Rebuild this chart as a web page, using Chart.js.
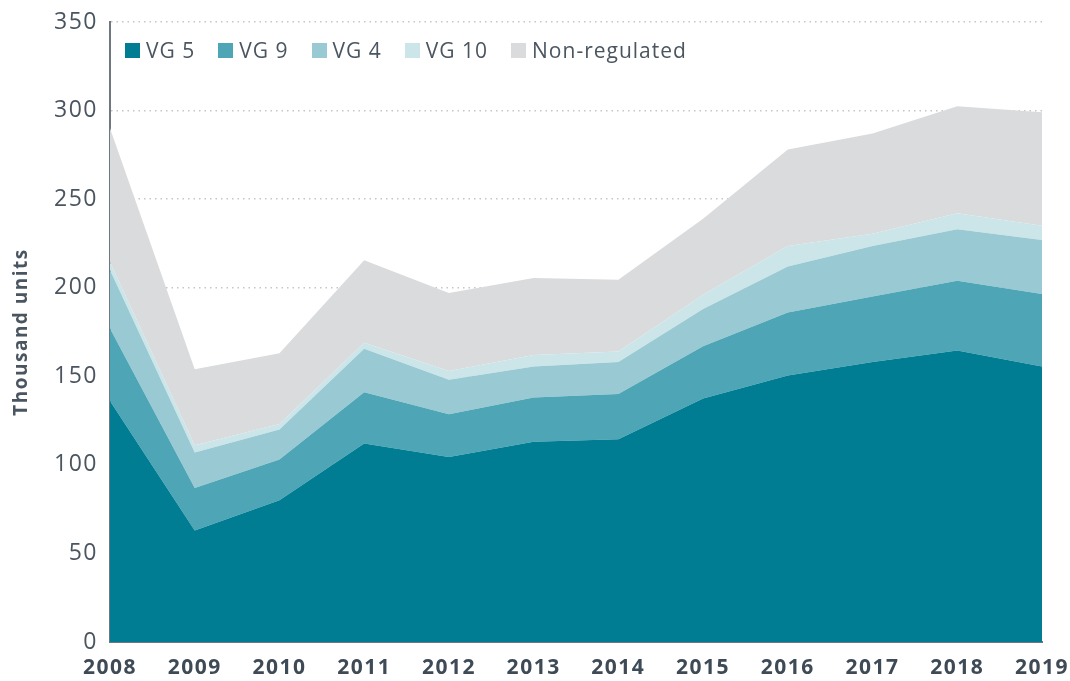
<!DOCTYPE html>
<html>
<head>
<meta charset="utf-8">
<script src="https://cdn.jsdelivr.net/npm/chart.js@4"></script>
<style>
  body { margin: 0; background: #fff; }
  #wrap { position: relative; width: 1070px; height: 681px; }
  #legend {
    position: absolute; left: 125px; top: 36px;
    font-family: "Open Sans", sans-serif; font-size: 21px; letter-spacing: 1px; color: #4a5560;
    display: flex; align-items: center;
  }
  #legend span.item { display: flex; align-items: center; margin-right: 23px; }
  #legend span.box { width: 15px; height: 15px; margin-right: 6px; display: inline-block; }
</style>
</head>
<body>
<div id="wrap">
  <canvas id="myChart" width="1070" height="681"></canvas>
  <div id="legend"></div>
</div>
<script>
let years = ['2008', '2009', '2010', '2011', '2012', '2013', '2014', '2015', '2016', '2017', '2018', '2019']

let vg5 = [136, 63, 80, 112, 104.5, 113, 114.5, 137.5, 150.5, 158, 164.5, 155.5]
let vg9 = [41, 24, 23, 29, 24, 25, 25.5, 29.5, 35.5, 37, 39.5, 41]
let vg4 = [33, 20, 17, 24.5, 19.5, 17.5, 18, 21, 26, 28.5, 29, 30.5]
let vg10 = [4.5, 4, 3, 3.5, 5, 6.5, 6, 8, 11.5, 7, 9, 8]
let nonRegulated = [75.5, 43, 40, 46.5, 44, 43.5, 40.5, 43, 54.5, 56.5, 60.5, 64]

let seriesNames = ['VG 5', 'VG 9', 'VG 4', 'VG 10', 'Non-regulated']
let seriesColors = ['#007d92', '#4da5b5', '#99cad4', '#cce5e9', '#dadbdd']
let seriesData = [vg5, vg9, vg4, vg10, nonRegulated]

let yTicks = [0, 50, 100, 150, 200, 250, 300, 350]

// html legend sits inside the plot area, top left
let legendDiv = document.getElementById('legend')
seriesNames.forEach(function (name, i) {
    let item = document.createElement('span')
    item.className = 'item'
    item.innerHTML = '<span class="box" style="background:' + seriesColors[i] + '"></span>' + name
    legendDiv.appendChild(item)
});

let datasets = seriesData.map(function (vals, i) {
    return {
        label: seriesNames[i],
        data: vals,
        backgroundColor: seriesColors[i],
        borderColor: seriesColors[i],
        borderWidth: 0,
        pointRadius: 0,
        tension: 0,
        fill: i === 0 ? 'origin' : '-1'
    }
});

// the original font is wider, so spread the canvas text a little
const spacingPlugin = {
    id: 'spacing',
    beforeDraw: function (chart) {
        chart.ctx.letterSpacing = '1.5px'
    }
}

let ctx = document.getElementById('myChart').getContext('2d')

Chart.defaults.font.family = '"Open Sans", sans-serif'

new Chart(ctx, {
    type: 'line',
    data: {
        labels: years,
        datasets: datasets
    },
    plugins: [spacingPlugin],
    options: {
        responsive: false,
        animation: false,
        layout: {
            padding: { top: 22, right: 28, left: 0, bottom: 0 }
        },
        scales: {
            x: {
                grid: { display: false, drawTicks: false },
                border: { display: true, color: '#6f7880', width: 2 },
                ticks: {
                    color: '#3e4a56',
                    padding: 13,
                    maxRotation: 0,
                    font: { size: 21, weight: 'bold' }
                },
                afterFit: function (axis) {
                    axis.height = 39
                    axis.paddingLeft = 0
                    axis.paddingRight = 0
                }
            },
            y: {
                stacked: true,
                min: 0,
                max: 350,
                afterBuildTicks: function (axis) {
                    axis.ticks = yTicks.map(function (v) { return { value: v } })
                },
                grid: {
                    color: '#c4c6c8',
                    lineWidth: 1.5,
                    drawTicks: false
                },
                border: { display: true, color: '#6f7880', width: 2, dash: [1.5, 4] },
                ticks: {
                    color: '#4a5560',
                    padding: 12,
                    font: { size: 23 }
                },
                title: {
                    display: true,
                    text: 'Thousand units',
                    color: '#4a5560',
                    padding: { top: 10, bottom: 0 },
                    font: { size: 19, weight: 'bold' }
                },
                afterFit: function (axis) {
                    axis.width = 110
                    axis.paddingTop = 0
                    axis.paddingBottom = 0
                }
            }
        },
        plugins: {
            legend: { display: false },
            tooltip: { enabled: false }
        }
    }
})
</script>
</body>
</html>
